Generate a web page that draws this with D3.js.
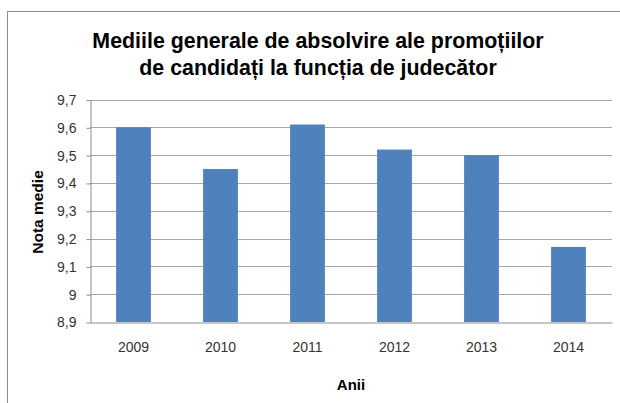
<!DOCTYPE html>
<html>
<head>
<meta charset="utf-8">
<script src="https://cdn.jsdelivr.net/npm/d3@7/dist/d3.min.js"></script>
<style>
  body { margin: 0; background: #fff; }
  text { font-family: "Liberation Sans", Arial, sans-serif; }
</style>
</head>
<body>
<svg id="mainSvg" width="620" height="403"></svg>
<script>
const years = ["2009", "2010", "2011", "2012", "2013", "2014"];
const medii = [9.6, 9.45, 9.61, 9.52, 9.5, 9.17];
const yTicks = [8.9, 9.0, 9.1, 9.2, 9.3, 9.4, 9.5, 9.6, 9.7];
const titleLines = ["Mediile generale de absolvire ale promoțiilor", "de candidați la funcția de judecător"];

const svg = d3.select("#mainSvg");
const plot = { left: 90, right: 612, top: 99.5, bottom: 322 };

// chenarul graficului
svg.append("rect")
    .attr("x", 7.5).attr("y", 11.5)
    .attr("width", 700).attr("height", 500)
    .attr("fill", "none")
    .attr("stroke", "#8c8c8c");

const x = d3.scaleBand()
    .domain(years)
    .range([plot.left, plot.right])
    .paddingInner(0.6)
    .paddingOuter(0.3);

const y = d3.scaleLinear()
    .domain([8.9, 9.7])
    .range([plot.bottom, plot.top]);

const fmt = d => (Math.abs(d - 9) < 1e-9 ? "9" : d3.format(".1f")(d).replace(".", ","));

// linii de grila
svg.append("g")
    .selectAll("line").data(yTicks.slice(1)).join("line")
    .attr("x1", plot.left).attr("x2", plot.right)
    .attr("y1", d => Math.round(y(d)) + 0.5)
    .attr("y2", d => Math.round(y(d)) + 0.5)
    .attr("stroke", "#a6a6a6");

// axa Y
const yAxis = svg.append("g")
    .attr("transform", `translate(${plot.left + 0.5},0.5)`)
    .call(d3.axisLeft(y).tickValues(yTicks).tickFormat(fmt).tickSize(4).tickPadding(10).tickSizeOuter(0));
yAxis.select(".domain").attr("stroke", "#8c8c8c");
yAxis.selectAll(".tick line").attr("stroke", "#8c8c8c");
yAxis.selectAll(".tick text")
    .attr("font-size", "14px")
    .attr("fill", "#333")
    .attr("font-family", "'Liberation Sans', Arial, sans-serif");

// bare
svg.append("g")
    .selectAll("rect").data(medii).join("rect")
    .attr("x", (d, i) => x(years[i]))
    .attr("y", d => y(d))
    .attr("width", x.bandwidth())
    .attr("height", d => plot.bottom - y(d))
    .attr("fill", "#4f81bd");

// axa X
const xAxis = svg.append("g")
    .attr("transform", `translate(0,${plot.bottom + 0.5})`)
    .call(d3.axisBottom(x).tickSize(0).tickPadding(20).tickSizeOuter(0));
xAxis.select(".domain").attr("stroke", "#8c8c8c");
xAxis.selectAll(".tick text")
    .attr("font-size", "14px")
    .attr("fill", "#333")
    .attr("font-family", "'Liberation Sans', Arial, sans-serif");

// titluri (usor ingustat, ca in original)
svg.append("g")
    .attr("transform", "translate(318,0) scale(0.93,1)")
    .selectAll("text").data(titleLines).join("text")
    .attr("x", 0)
    .attr("y", (d, i) => 48 + i * 27)
    .attr("text-anchor", "middle")
    .attr("font-size", "23px")
    .attr("font-weight", "bold")
    .attr("fill", "#000")
    .text(d => d);

svg.append("text")
    .attr("x", 351).attr("y", 390)
    .attr("text-anchor", "middle")
    .attr("font-size", "15px")
    .attr("font-weight", "bold")
    .text("Anii");

svg.append("text")
    .attr("transform", "translate(43,212) rotate(-90)")
    .attr("text-anchor", "middle")
    .attr("font-size", "15.5px")
    .attr("font-weight", "bold")
    .text("Nota medie");
</script>
</body>
</html>
